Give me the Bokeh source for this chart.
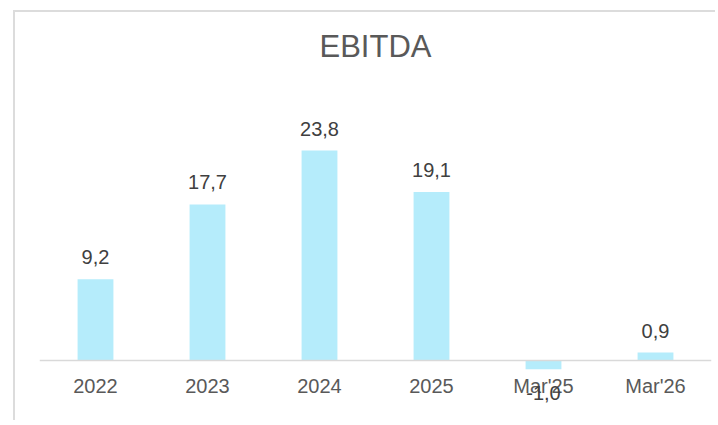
from bokeh.plotting import figure
from bokeh.models import ColumnDataSource, LabelSet, Span, FactorRange, Range1d, Spacer
from bokeh.layouts import row, column
from bokeh.core.properties import value
from bokeh.embed import file_html
from bokeh.resources import INLINE

categories = ["2022", "2023", "2024", "2025", "Mar'25", "Mar'26"]
ebitda = [9.2, 17.7, 23.8, 19.1, -1.0, 0.9]

labels = [f"{v:.1f}".replace(".", ",") for v in ebitda]
offsets = [15 if v >= 0 else -31 for v in ebitda]

src = ColumnDataSource(dict(cat=categories, val=ebitda, lbl=labels, off=offsets))

PX_PER_UNIT = 8.82
H = 410
W = 702
frame_top_px = 62
frame_bottom_px = 394
zero_px = 348

p = figure(
    x_range=FactorRange(*categories, range_padding=0),
    y_range=Range1d(-(frame_bottom_px - zero_px) / PX_PER_UNIT,
                    (zero_px - frame_top_px) / PX_PER_UNIT),
    width=W, height=H,
    output_backend="svg", toolbar_location=None,
    min_border_left=24, min_border_right=6,
    min_border_top=frame_top_px, min_border_bottom=H - frame_bottom_px,
    title="EBITDA",
)
p.styles = {"border-left": "2px solid #dcdcdc", "border-top": "2px solid #dcdcdc"}

p.title.align = "center"
p.title.text_font = "Liberation Sans"
p.title.text_font_size = "31px"
p.title.text_font_style = "normal"
p.title.text_color = "#595959"
p.title.standoff = 22

p.outline_line_color = None
p.xgrid.grid_line_color = None
p.ygrid.grid_line_color = None
p.yaxis.visible = False
p.background_fill_color = "white"
p.border_fill_color = "white"

xa = p.xaxis[0]
xa.axis_line_color = None
xa.major_tick_line_color = None
xa.minor_tick_line_color = None
xa.major_tick_out = 0
xa.major_tick_in = 0
xa.major_label_standoff = -32
xa.major_label_text_font = "Liberation Sans"
xa.major_label_text_font_size = "20px"
xa.major_label_text_color = "#595959"

p.vbar(x="cat", top="val", bottom=0, width=0.32, source=src,
       fill_color="#b5ecfb", line_color=None)

p.add_layout(Span(location=0, dimension="width", line_color="#d9d9d9", line_width=1.5))

p.add_layout(LabelSet(x="cat", y="val", text="lbl", source=src, y_offset="off",
                      text_align="center", text_baseline="alphabetic",
                      text_font=value("Liberation Sans"), text_font_size="20px",
                      text_color="#404040"))

layout = column(Spacer(height=10), row(Spacer(width=13), p))

open("out.html", "w").write(file_html(layout, INLINE))
